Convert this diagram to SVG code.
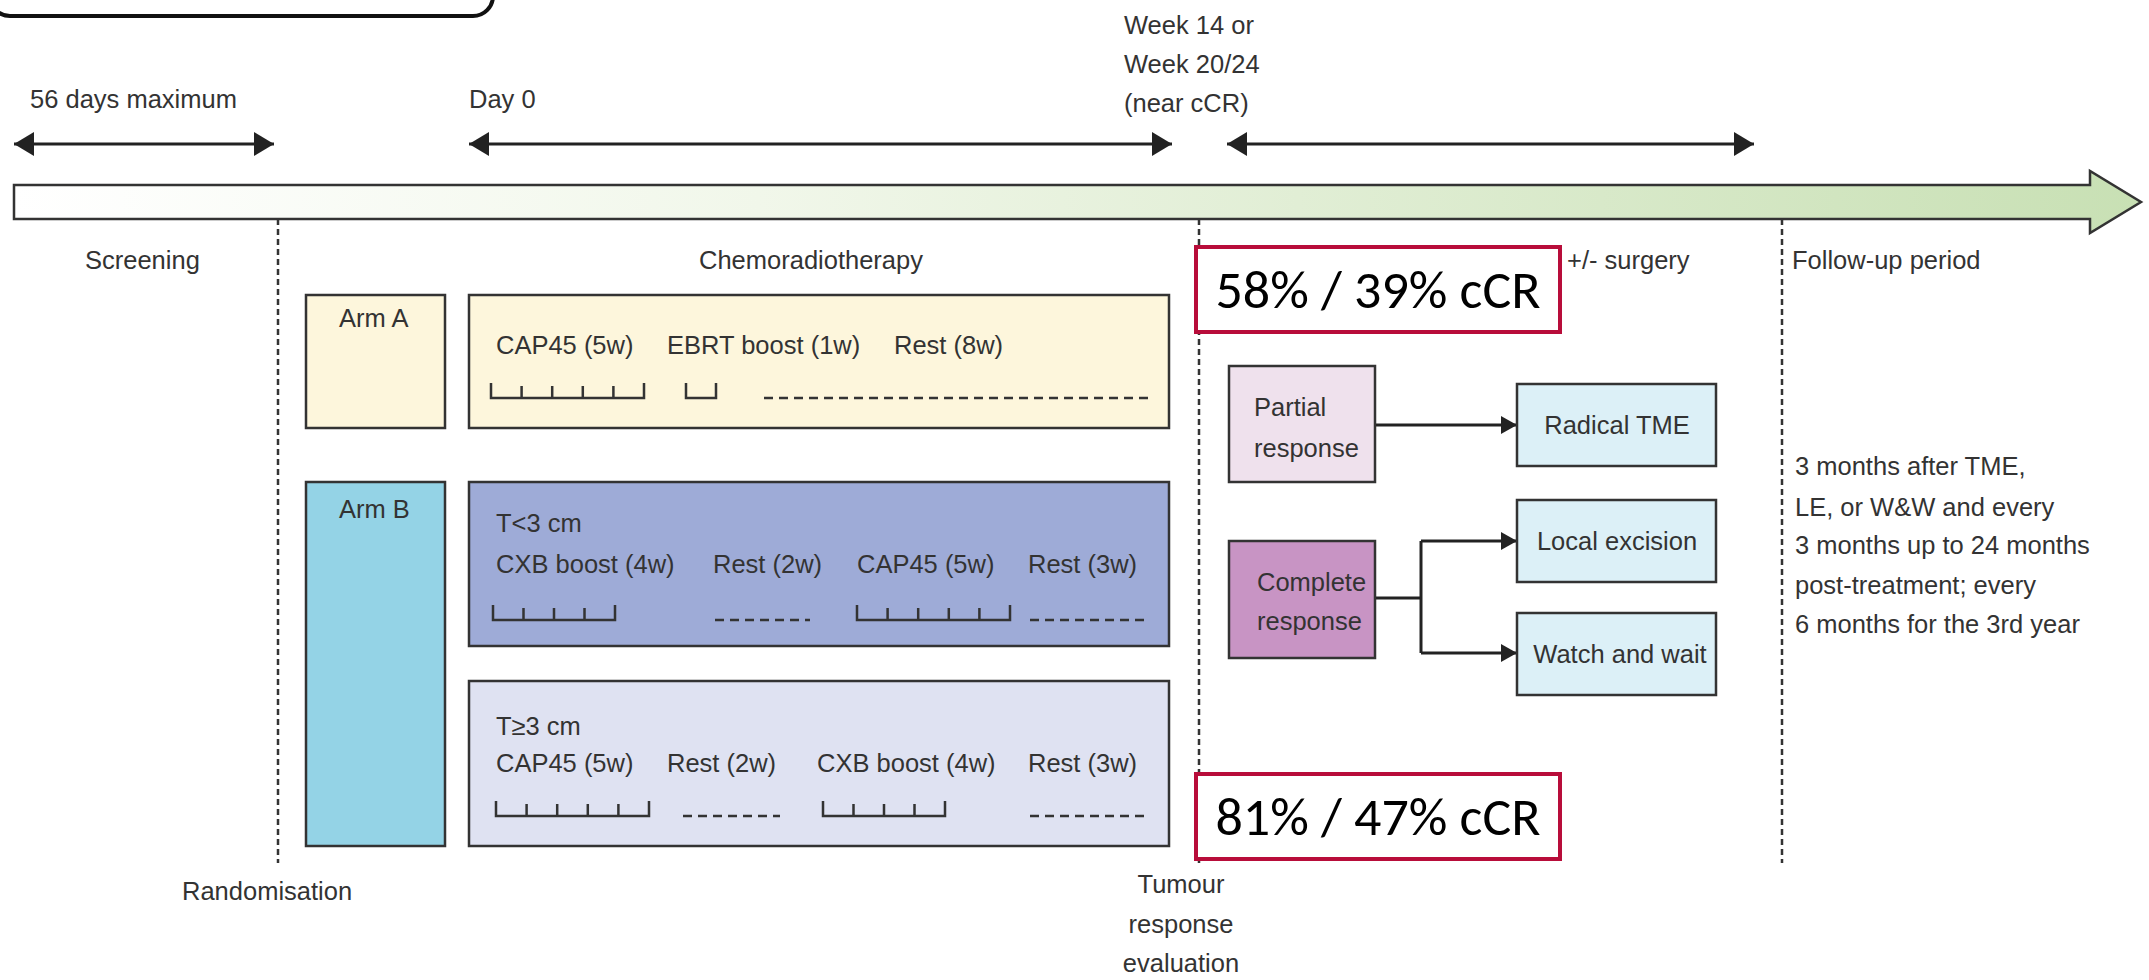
<svg xmlns="http://www.w3.org/2000/svg" width="2149" height="980" viewBox="0 0 2149 980">
<style>
text{font-family:"Liberation Sans",Arial,sans-serif;font-size:25.5px;fill:#333}
.box{stroke:#333;stroke-width:2.5}
.tick{fill:none;stroke:#333;stroke-width:2.5}
.dash{fill:none;stroke:#333;stroke-width:2.5;stroke-dasharray:9 6}
.vdot{fill:none;stroke:#333;stroke-width:2.5;stroke-dasharray:6 4}
.line{fill:none;stroke:#222;stroke-width:3}
.red{fill:#fff;stroke:#b80d3a;stroke-width:4}
.big{font-family:Carlito,"Liberation Sans",Arial,sans-serif;font-size:54px;fill:#000}
</style>
<defs>
<linearGradient id="g" x1="0" y1="0" x2="1" y2="0">
<stop offset="0" stop-color="#ffffff"/>
<stop offset="0.35" stop-color="#f1f7ea"/>
<stop offset="1" stop-color="#c8e0b4"/>
</linearGradient>
<marker id="ah" viewBox="0 0 20 24" refX="20" refY="12" markerWidth="20" markerHeight="24" markerUnits="userSpaceOnUse" orient="auto-start-reverse">
<path d="M0,0 L20,12 L0,24 z" fill="#222"/>
</marker>
<marker id="sh" viewBox="0 0 16 18" refX="16" refY="9" markerWidth="16" markerHeight="18" markerUnits="userSpaceOnUse" orient="auto">
<path d="M0,0 L16,9 L0,18 z" fill="#222"/>
</marker>
</defs>

<rect x="-10" y="-100" width="503" height="116" rx="20" fill="#fff" stroke="#111" stroke-width="4"/>

<g id="timeline">
<path d="M14,185 H2090 V171 L2141,202 L2090,233 V219 H14 Z" fill="url(#g)" stroke="#333" stroke-width="2.5"/>
</g>

<g id="labels-top">
<text x="30" y="108">56 days maximum</text>
<text x="469" y="108">Day 0</text>
<text x="1124" y="34">Week 14 or</text>
<text x="1124" y="73">Week 20/24</text>
<text x="1124" y="112">(near cCR)</text>
<text x="85" y="269">Screening</text>
<text x="699" y="269">Chemoradiotherapy</text>
<text x="1567" y="269">+/- surgery</text>
<text x="1792" y="269">Follow-up period</text>
<text x="182" y="900">Randomisation</text>
<text x="1181" y="893" text-anchor="middle">Tumour</text>
<text x="1181" y="933" text-anchor="middle">response</text>
<text x="1181" y="972" text-anchor="middle">evaluation</text>
</g>

<g id="connectors">
<line class="line" x1="14" y1="144" x2="274" y2="144" marker-start="url(#ah)" marker-end="url(#ah)"/>
<line class="line" x1="469" y1="144" x2="1172" y2="144" marker-start="url(#ah)" marker-end="url(#ah)"/>
<line class="line" x1="1227" y1="144" x2="1754" y2="144" marker-start="url(#ah)" marker-end="url(#ah)"/>
<line class="vdot" x1="278" y1="219" x2="278" y2="863"/>
<line class="vdot" x1="1199" y1="219" x2="1199" y2="863"/>
<line class="vdot" x1="1782" y1="219" x2="1782" y2="863"/>
<line class="line" x1="1375" y1="425" x2="1517" y2="425" marker-end="url(#sh)"/>
<path class="line" d="M1375,598 H1421"/>
<path class="line" d="M1421,541 V653"/>
<line class="line" x1="1421" y1="541" x2="1517" y2="541" marker-end="url(#sh)"/>
<line class="line" x1="1421" y1="653" x2="1517" y2="653" marker-end="url(#sh)"/>
</g>

<g id="arm-a">
<rect class="box" x="306" y="295" width="139" height="133" fill="#fdf6dc"/>
<text x="339" y="327">Arm A</text>
</g>
<g id="arm-a-regimen">
<rect class="box" x="469" y="295" width="700" height="133" fill="#fdf6dc"/>
<text x="496" y="354">CAP45 (5w)</text>
<text x="667" y="354">EBRT boost (1w)</text>
<text x="894" y="354">Rest (8w)</text>
<path class="tick" d="M491,383 V398 H644 V383 M521.6,386 V398 M552.2,386 V398 M582.8,386 V398 M613.4,386 V398"/>
<path class="tick" d="M686,383 V398 H716 V383"/>
<line class="dash" x1="764" y1="398" x2="1150" y2="398"/>
</g>

<g id="arm-b">
<rect class="box" x="306" y="482" width="139" height="364" fill="#94d3e6"/>
<text x="339" y="518">Arm B</text>
</g>
<g id="arm-b-small">
<rect class="box" x="469" y="482" width="700" height="164" fill="#9eabd7"/>
<text x="496" y="532">T&lt;3 cm</text>
<text x="496" y="573">CXB boost (4w)</text>
<text x="713" y="573">Rest (2w)</text>
<text x="857" y="573">CAP45 (5w)</text>
<text x="1028" y="573">Rest (3w)</text>
<path class="tick" d="M493,605 V620 H615 V605 M523.5,608 V620 M554,608 V620 M584.5,608 V620"/>
<line class="dash" x1="715" y1="620" x2="810" y2="620"/>
<path class="tick" d="M857,605 V620 H1010 V605 M887.6,608 V620 M918.2,608 V620 M948.8,608 V620 M979.4,608 V620"/>
<line class="dash" x1="1030" y1="620" x2="1150" y2="620"/>
</g>
<g id="arm-b-large">
<rect class="box" x="469" y="681" width="700" height="165" fill="#dfe2f2"/>
<text x="496" y="735">T≥3 cm</text>
<text x="496" y="772">CAP45 (5w)</text>
<text x="667" y="772">Rest (2w)</text>
<text x="817" y="772">CXB boost (4w)</text>
<text x="1028" y="772">Rest (3w)</text>
<path class="tick" d="M496,801 V816 H649 V801 M526.6,804 V816 M557.2,804 V816 M587.8,804 V816 M618.4,804 V816"/>
<line class="dash" x1="683" y1="816" x2="780" y2="816"/>
<path class="tick" d="M823,801 V816 H945 V801 M853.5,804 V816 M884,804 V816 M914.5,804 V816"/>
<line class="dash" x1="1030" y1="816" x2="1150" y2="816"/>
</g>

<g id="ccr-a">
<rect class="red" x="1196" y="247" width="364" height="85"/>
<text class="big" x="1378" y="308" text-anchor="middle">58% / 39% cCR</text>
</g>
<g id="ccr-b">
<rect class="red" x="1196" y="774" width="364" height="85"/>
<text class="big" x="1378" y="835" text-anchor="middle">81% / 47% cCR</text>
</g>

<g id="partial">
<rect class="box" x="1229" y="366" width="146" height="116" fill="#efe1ed"/>
<text x="1254" y="416">Partial</text>
<text x="1254" y="457">response</text>
</g>
<g id="complete">
<rect class="box" x="1229" y="541" width="146" height="117" fill="#c894c4"/>
<text x="1257" y="591">Complete</text>
<text x="1257" y="630">response</text>
</g>
<g id="radical">
<rect class="box" x="1517" y="384" width="199" height="82" fill="#dcf0f7"/>
<text x="1617" y="434" text-anchor="middle">Radical TME</text>
</g>
<g id="local">
<rect class="box" x="1517" y="500" width="199" height="82" fill="#dcf0f7"/>
<text x="1617" y="550" text-anchor="middle">Local excision</text>
</g>
<g id="watch">
<rect class="box" x="1517" y="613" width="199" height="82" fill="#dcf0f7"/>
<text x="1620" y="663" text-anchor="middle">Watch and wait</text>
</g>

<g id="followup">
<text x="1795" y="475">3 months after TME,</text>
<text x="1795" y="516">LE, or W&amp;W and every</text>
<text x="1795" y="554">3 months up to 24 months</text>
<text x="1795" y="594">post-treatment; every</text>
<text x="1795" y="633">6 months for the 3rd year</text>
</g>
</svg>
